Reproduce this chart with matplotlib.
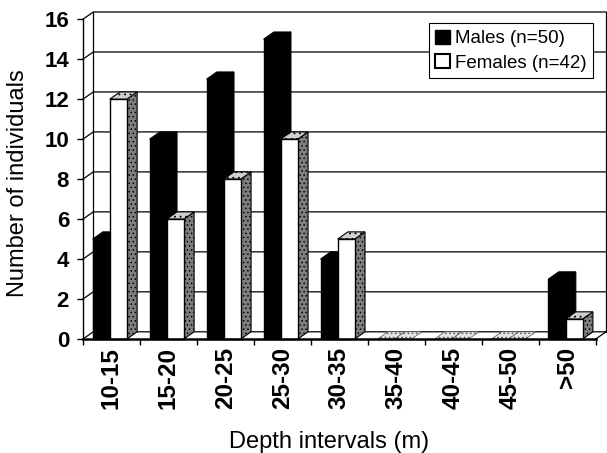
import matplotlib
matplotlib.use("Agg")
import matplotlib.pyplot as plt
from matplotlib.patches import Polygon, Patch

plt.rcParams["font.family"] = ["Liberation Sans", "DejaVu Sans"]
plt.rcParams["hatch.linewidth"] = 0.6

intervals = ["10-15", "15-20", "20-25", "25-30", "30-35", "35-40", "40-45", "45-50", ">50"]
males = [5, 10, 13, 15, 4, 0, 0, 0, 3]
females = [12, 6, 8, 10, 5, 0, 0, 0, 1]
y_ticks = [0, 2, 4, 6, 8, 10, 12, 14, 16]
labels = ["Males (n=50)", "Females (n=42)"]

# fake 3D depth (data units)
DX = 0.18
DY = 0.36
BAR_W = 0.3
GROUP_C = 0.47

n = len(intervals)
ymax = y_ticks[-1]

fig = plt.figure(figsize=(6.07, 4.53), dpi=100)
ax = fig.add_axes([83 / 607, 114 / 453, (606 - 83) / 607, (441 - 114) / 453])
ax.set_xlim(0, n + DX)
ax.set_ylim(0, ymax + DY)


def face(pts, **kw):
    ax.add_patch(Polygon(pts, closed=True, clip_on=False, **kw))


def bar3d(x0, h, front, top, side, hatch_top=None, hatch_side=None):
    x1 = x0 + BAR_W
    if h <= 0:
        # empty class: only a flat slab on the floor
        face([(x0, 0), (x1, 0), (x1 + DX, DY), (x0 + DX, DY)],
             facecolor="#e4e4e4", edgecolor="#555555", lw=0.5, hatch="....", zorder=3)
        return
    face([(x1, 0), (x1 + DX, DY), (x1 + DX, h + DY), (x1, h)],
         facecolor=side, edgecolor="black", lw=0.8, hatch=hatch_side, zorder=3)
    face([(x0, h), (x1, h), (x1 + DX, h + DY), (x0 + DX, h + DY)],
         facecolor=top, edgecolor="black", lw=0.8, hatch=hatch_top, zorder=3)
    face([(x0, 0), (x1, 0), (x1, h), (x0, h)],
         facecolor=front, edgecolor="black", lw=1.0, zorder=3)


# walls and gridlines
for v in y_ticks:
    ax.plot([0, DX, n + DX], [v, v + DY, v + DY], color="black", lw=0.9, zorder=1, clip_on=False)
ax.plot([DX, DX], [DY, ymax + DY], color="black", lw=0.9, zorder=1, clip_on=False)
ax.plot([n + DX, n + DX], [DY, ymax + DY], color="black", lw=0.9, zorder=1, clip_on=False)
ax.plot([n, n + DX], [0, DY], color="black", lw=0.9, zorder=1, clip_on=False)

for i in range(n):
    bar3d(i + GROUP_C - BAR_W, males[i], "black", "black", "black")
    bar3d(i + GROUP_C, females[i], "white", "#d0d0d0", "#7e7e7e",
          hatch_top="...", hatch_side="....")

# axes
for s in ["top", "right"]:
    ax.spines[s].set_visible(False)
ax.spines["left"].set_bounds(0, ymax)
ax.spines["bottom"].set_bounds(0, n)
ax.spines["left"].set_linewidth(1.0)
ax.spines["bottom"].set_linewidth(1.8)
ax.spines["left"].set_zorder(5)
ax.spines["bottom"].set_zorder(5)

ax.set_yticks(y_ticks)
ax.set_yticklabels([str(v) for v in y_ticks], fontsize=16, fontweight="bold")
ax.tick_params(axis="y", direction="out", length=4, width=1, pad=6)

ax.set_xticks(range(n + 1))
ax.set_xticklabels([])
ax.tick_params(axis="x", which="major", direction="out", length=4, width=1)
ax.set_xticks([i + 0.5 for i in range(n)], minor=True)
ax.set_xticklabels(intervals, minor=True, rotation=90, fontsize=17.5, fontweight="bold")
ax.tick_params(axis="x", which="minor", length=0, pad=6)

fig.text(18 / 607, 1 - 183 / 453, "Number of individuals", rotation=90,
         ha="center", va="center", fontsize=17)
fig.text(329 / 607, 1 - 442 / 453, "Depth intervals (m)", ha="center", va="center", fontsize=17)

handles = [Patch(facecolor="black", edgecolor="black"),
           Patch(facecolor="white", edgecolor="black", lw=1.5)]
leg = fig.legend(handles, labels, loc="upper right",
                 bbox_to_anchor=(593 / 607, 1 - 23 / 453), fontsize=13.5,
                 frameon=True, fancybox=False, framealpha=1, edgecolor="black",
                 borderpad=0.35, handlelength=0.8, handleheight=0.8,
                 handletextpad=0.25, labelspacing=0.35, borderaxespad=0)
leg.get_frame().set_linewidth(0.8)

fig.savefig("out.png", dpi=100)
